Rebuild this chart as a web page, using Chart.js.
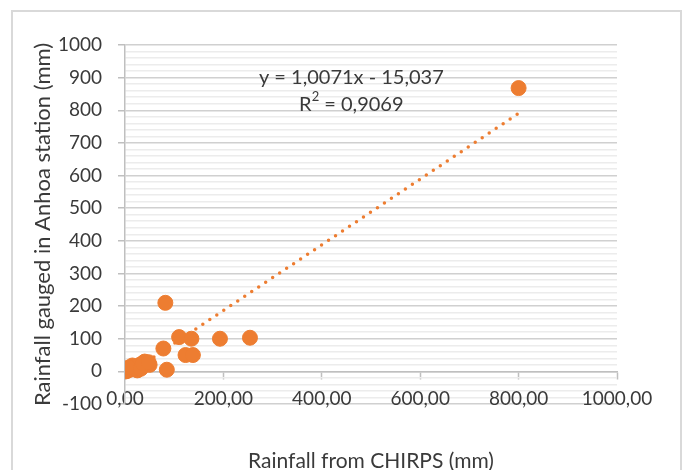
<!DOCTYPE html>
<html>
<head>
<meta charset="utf-8">
<script src="https://cdn.jsdelivr.net/npm/chart.js@4"></script>
<style>
    html, body { margin: 0; padding: 0; background: #ffffff; overflow: hidden; }
    #frame {
        position: absolute; left: 11px; top: 10px;
        width: 671px; height: 500px;
        border: 2px solid #d9d9d9; box-sizing: border-box;
    }
    #chart { position: absolute; left: 0; top: 0; }
</style>
</head>
<body>
<div id="frame"></div>
<canvas id="chart" width="686" height="470"></canvas>
<script>
// Dades (llegides del gràfic)
const chirps = [800, 82, 110, 135, 193, 254, 78, 123, 138, 85, 40, 45, 30, 20, 15, 10, 5, 2, 25, 50, 8, 32, 36, 48];
const anhoa  = [868, 210, 105, 100, 100, 103, 70, 50, 50, 5, 30, 22, 20, 10, 18, 5, 2, 0, 3, 20, 12, 8, 25, 28];

// Línia de tendència (Excel)
const slope = 1.0071;
const intercept = -15.037;
const r2 = 0.9069;

const xTicksMin = 0, xTicksMax = 1000, xStep = 200;
const yTicksMin = -100, yTicksMax = 1000, yStep = 20, yMajor = 100;

const ORANGE = '#ED7D31';
const TEXT = '#3a3a3a';
const TICK_FONT = { family: 'Lato', size: 19 };

const points = chirps.map((x, i) => ({ x, y: anhoa[i] }));
const xMin = Math.min(...chirps);
const xMax = Math.max(...chirps);
const trend = [xMin, xMax].map(x => ({ x, y: slope * x + intercept }));

const comma = (v, d) => v.toFixed(d).replace('.', ',');

// Etiqueta de l'equació
const equationLabel = {
    id: 'equationLabel',
    afterDatasetsDraw(chart) {
        const { ctx, scales } = chart;
        const cx = scales.x.getPixelForValue(460);
        const y1 = scales.y.getPixelForValue(899);
        const y2 = scales.y.getPixelForValue(819);
        ctx.save();
        ctx.fillStyle = TEXT;
        ctx.font = '20px Lato';
        ctx.textBaseline = 'middle';
        ctx.textAlign = 'center';
        const sign = intercept < 0 ? ' - ' : ' + ';
        ctx.fillText(`y = ${comma(slope, 4)}x${sign}${comma(Math.abs(intercept), 3)}`, cx, y1);

        // R² amb superíndex
        const a = 'R', b = '2', c = ` = ${comma(r2, 4)}`;
        const wa = ctx.measureText(a).width;
        const wc = ctx.measureText(c).width;
        ctx.font = '13px Lato';
        const wb = ctx.measureText(b).width;
        const start = cx - (wa + wb + wc) / 2;
        ctx.textAlign = 'left';
        ctx.font = '20px Lato';
        ctx.fillText(a, start, y2);
        ctx.fillText(c, start + wa + wb, y2);
        ctx.font = '13px Lato';
        ctx.fillText(b, start + wa, y2 - 7);
        ctx.restore();
    }
};

new Chart(document.getElementById('chart'), {
    type: 'scatter',
    data: {
        datasets: [
            {
                label: 'Rainfall',
                data: points,
                backgroundColor: ORANGE,
                borderColor: ORANGE,
                pointRadius: 7.5,
                pointHoverRadius: 7.5
            },
            {
                label: 'Trend',
                type: 'line',
                data: trend,
                borderColor: ORANGE,
                borderWidth: 3.5,
                borderDash: [0, 8.4],
                borderCapStyle: 'round',
                pointRadius: 0,
                fill: false
            }
        ]
    },
    options: {
        responsive: false,
        devicePixelRatio: 1,
        animation: false,
        layout: { padding: { left: 0, top: 45, right: 69, bottom: 66 } },
        plugins: {
            legend: { display: false },
            tooltip: { enabled: false }
        },
        scales: {
            x: {
                type: 'linear',
                position: { y: 0 },
                min: xTicksMin,
                max: xTicksMax,
                ticks: {
                    stepSize: xStep,
                    color: TEXT,
                    font: TICK_FONT,
                    padding: 9,
                    maxRotation: 0,
                    callback: v => comma(v, 2)
                },
                grid: {
                    drawOnChartArea: false,
                    drawTicks: true,
                    tickLength: 7,
                    tickColor: '#bfbfbf',
                    tickWidth: 1.5
                },
                border: { color: '#bfbfbf', width: 1.5 },
                title: {
                    display: true,
                    text: 'Rainfall from CHIRPS (mm)',
                    color: TEXT,
                    font: { family: 'Lato', size: 21 },
                    padding: { top: 29, bottom: 0 }
                }
            },
            y: {
                min: yTicksMin,
                max: yTicksMax,
                afterFit: s => { s.width = 125; },
                ticks: {
                    stepSize: yStep,
                    autoSkip: false,
                    color: TEXT,
                    font: TICK_FONT,
                    padding: 16,
                    callback: v => Math.round(v) % yMajor === 0 ? Math.round(v) : ''
                },
                grid: {
                    color: c => (c.tick && Math.round(c.tick.value) % yMajor === 0) ? '#d0d0d0' : '#ececec',
                    lineWidth: 1.5,
                    tickLength: 7,
                    tickColor: c => (c.tick && Math.round(c.tick.value) % yMajor === 0) ? '#bfbfbf' : 'rgba(0,0,0,0)',
                    tickWidth: 1.5
                },
                border: { color: '#bfbfbf', width: 1.5 },
                title: {
                    display: true,
                    text: 'Rainfall gauged in Anhoa station (mm)',
                    color: TEXT,
                    font: { family: 'Lato', size: 22 },
                    padding: { top: 30, bottom: 0 }
                }
            }
        }
    },
    plugins: [equationLabel]
});
</script>
</body>
</html>
